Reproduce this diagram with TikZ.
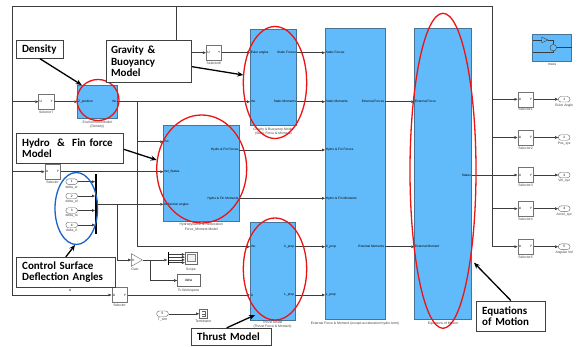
\documentclass[tikz,border=0pt]{standalone}
\usepackage{fontspec}
\setmainfont{Liberation Sans}
\newfontfamily\cofont{Carlito}
\usetikzlibrary{arrows.meta,shapes.geometric,calc}
\definecolor{blkfill}{RGB}{97,187,250}
\definecolor{blkline}{RGB}{70,115,150}
\definecolor{wirec}{RGB}{60,60,60}
\definecolor{ellred}{RGB}{235,20,20}
\definecolor{ellblue}{RGB}{20,100,200}
\tikzset{
 blk/.style={draw=blkline, fill=blkfill, line width=0.6pt, inner sep=0, rectangle},
 selbox/.style={draw=black!55, fill=white, line width=0.4pt, minimum width=15.6pt, minimum height=15pt, inner sep=0},
 wire/.style={draw=wirec, line width=0.45pt},
 arr/.style={wire, -{Triangle[length=3pt,width=2.6pt]}},
 tiny/.style={font=\fontsize{3.2}{3.6}\selectfont, inner sep=0.6pt},
 lab/.style={font=\fontsize{3.4}{3.9}\selectfont, inner sep=0, text=black!75},
 port/.style={draw=black!60, fill=white, rounded corners=2.7pt, minimum width=11.7pt, minimum height=5.5pt, inner sep=0, font=\fontsize{3.2}{3.6}\selectfont},
 redell/.style={draw=ellred, line width=1.3pt, ellipse, inner sep=0},
 blueell/.style={draw=ellblue, line width=1.3pt, ellipse, inner sep=0},
 callout/.style={draw=black!75, line width=0.9pt, fill=white, inner ysep=0, font=\cofont\bfseries\fontsize{11}{11.5}\selectfont, align=left},
 pointer/.style={line width=1.3pt, -{Stealth[length=6pt,width=5pt]}},
 barnode/.style={fill=black, inner sep=0, minimum width=1.6pt},
 smallbox/.style={draw=black!60, fill=white, line width=0.4pt, inner sep=0},
}
\newcommand\mksel[4]{%
 \node[selbox] (#1) at (#2,#3) {};
 \node[tiny] at ([xshift=2.6pt]#1.west) {U};
 \node[tiny] at ([xshift=-2.6pt]#1.east) {Y};
 \node[lab, anchor=north] at ([yshift=-1.2pt]#1.south) {#4};}
\begin{document}
\begin{tikzpicture}[x=1pt,y=-1pt]
\fill[white] (0,0) rectangle (582,347);
\useasboundingbox (0,0) rectangle (582,347);

% ---------- blocks ----------
\node[blk, minimum width=40pt, minimum height=33.3pt] (dens) at (97.3,101.65) {};
\node[blk, minimum width=46.7pt, minimum height=95.7pt] (grav) at (273.35,77.15) {};
\node[blk, minimum width=76pt, minimum height=96pt] (hyd) at (201.3,173) {};
\node[blk, minimum width=45pt, minimum height=97.3pt] (thr) at (272.5,271.35) {};
\node[blk, minimum width=60pt, minimum height=291pt] (ext) at (355,173.8) {};
\node[blk, minimum width=57.4pt, minimum height=291pt] (eom) at (443,173.8) {};
\node[blk, minimum width=39pt, minimum height=27pt] (mass) at (552.2,47.5) {};

% mass icon
\draw[wirec, line width=0.4pt] (533.3,40) -- (541.7,40);
\draw[wirec, line width=0.4pt] (541.7,37.2) -- (541.7,42.8) -- (548,40) -- cycle;
\draw[wirec, line width=0.4pt] (548,40) -- (553.3,40) -- (553.3,44.4);
\draw[wirec, line width=0.4pt] (553.3,47.7) circle [radius=3.3];
\draw[wirec, line width=0.4pt] (556.6,47.7) -- (571.7,47.7);
\draw[wirec, line width=0.4pt] (533.3,52.5) -- (553.3,52.5) -- (553.3,51);
\node[lab] at (552.2,64.5) {mass};

% block labels
\node[lab] at (97.3,122) {Environment Model};
\node[lab] at (97.3,126.6) {(Density)};
\node[lab] at (273.35,129.3) {Gravity \& Buoyancy Model};
\node[lab] at (273.35,133.9) {(Static Force \& Moment)};
\node[lab] at (201.3,225) {Hydrodynamic \& Restoration};
\node[lab] at (201.3,229.6) {Force\_Moment Model};
\node[lab] at (272.5,322.6) {Thrust Model};
\node[lab] at (272.5,326.9) {(Thrust Force \& Moment)};
\node[lab] at (355,323.6) {External Force \& Moment (except acceleration hydro term)};
\node[lab] at (443,323.6) {Equations of Motion};

% ports
\coordinate (dens-i1) at (77.3,101.7);  \coordinate (dens-o1) at (117.3,101.7);
\coordinate (grav-i1) at (250,52.7);    \coordinate (grav-i2) at (250,101.7);
\coordinate (grav-o1) at (296.7,52.7);  \coordinate (grav-o2) at (296.7,101.7);
\coordinate (hyd-i1) at (163.3,141.7);  \coordinate (hyd-i2) at (163.3,171.7);
\coordinate (hyd-i3) at (163.3,204.3);
\coordinate (hyd-o1) at (239.3,150);    \coordinate (hyd-o2) at (239.3,198.3);
\coordinate (thr-i1) at (250,246.7);    \coordinate (thr-i2) at (250,295);
\coordinate (thr-o1) at (295,246.7);    \coordinate (thr-o2) at (295,295);
\coordinate (ext-i1) at (325,52.7);     \coordinate (ext-i2) at (325,101.7);
\coordinate (ext-i3) at (325,150);      \coordinate (ext-i4) at (325,198.3);
\coordinate (ext-i5) at (325,246.7);    \coordinate (ext-i6) at (325,295);
\coordinate (ext-o1) at (385,101.7);    \coordinate (ext-o2) at (385,246.7);
\coordinate (eom-i1) at (414.3,101.7);  \coordinate (eom-i2) at (414.3,246.7);
\coordinate (eom-o1) at (471.7,175);

% port labels
\node[tiny, anchor=west] at (dens-i1) {Z\_position};
\node[tiny, anchor=east] at (dens-o1) {rho};
\node[tiny, anchor=west] at (grav-i1) {Euler angles};
\node[tiny, anchor=west] at (grav-i2) {rho};
\node[tiny, anchor=east] at (grav-o1) {Static Forces};
\node[tiny, anchor=east] at (grav-o2) {Static Moments};
\node[tiny, anchor=west] at (hyd-i1) {rho};
\node[tiny, anchor=west] at (hyd-i2) {Vel\_States};
\node[tiny, anchor=west] at (hyd-i3) {Deflection angles};
\node[tiny, anchor=east] at (hyd-o1) {Hydro \& Fin Forces};
\node[tiny, anchor=east] at (hyd-o2) {Hydro \& Fin Moments};
\node[tiny, anchor=west] at (thr-i1) {rho};
\node[tiny, anchor=west] at (thr-i2) {U};
\node[tiny, anchor=east] at (thr-o1) {X\_prop};
\node[tiny, anchor=east] at (thr-o2) {L\_prop};
\node[tiny, anchor=west] at (ext-i1) {Static Forces};
\node[tiny, anchor=west] at (ext-i2) {Static Moments};
\node[tiny, anchor=west] at (ext-i3) {Hydro \& Fin Forces};
\node[tiny, anchor=west] at (ext-i4) {Hydro \& Fin Moments};
\node[tiny, anchor=west] at (ext-i5) {X\_prop};
\node[tiny, anchor=west] at (ext-i6) {L\_prop};
\node[tiny, anchor=east] at (ext-o1) {External Forces};
\node[tiny, anchor=east] at (ext-o2) {External Moments};
\node[tiny, anchor=west] at (eom-i1) {External Force};
\node[tiny, anchor=west] at (eom-i2) {External Moment};
\node[tiny, anchor=east] at (eom-o1) {States};

% ---------- selectors ----------
\mksel{sel7}{46.3}{101.7}{Selector7}
\mksel{selM}{52.5}{171.7}{Selector}
\mksel{selB}{119.5}{295}{Selector}
\mksel{sel6}{213.85}{52.7}{Selector6}
\mksel{sel1}{525.5}{99.3}{Selector1}
\mksel{sel2}{525.5}{137.5}{Selector2}
\mksel{sel3}{525.5}{175}{Selector3}
\mksel{sel4}{525.5}{208.7}{Selector4}
\mksel{sel5}{525.5}{246.7}{Selector5}

% outports
\node[port] (out1) at (564.2,99.3) {1};
\node[port] (out2) at (564.2,137.5) {2};
\node[port] (out3) at (564.2,175) {3};
\node[port] (out4) at (564.2,208.7) {4};
\node[port] (out5) at (564.2,246.7) {5};
\node[lab, anchor=north] at ([yshift=-1.2pt]out1.south) {Euler Angle};
\node[lab, anchor=north] at ([yshift=-1.2pt]out2.south) {Pos\_xyz};
\node[lab, anchor=north] at ([yshift=-1.2pt]out3.south) {Vel\_xyz};
\node[lab, anchor=north] at ([yshift=-1.2pt]out4.south) {Accel\_xyz};
\node[lab, anchor=north] at ([yshift=-1.2pt]out5.south) {Angular Vel};

% deflection inports and mux
\node[port] (in1) at (71.7,181.7) {1};
\node[port] (in2) at (71.7,196) {2};
\node[port] (in3) at (71.7,210.5) {3};
\node[port] (in4) at (71.7,225) {4};
\node[lab, anchor=north] at ([yshift=-0.8pt]in1.south) {delta\_er};
\node[lab, anchor=north] at ([yshift=-0.8pt]in2.south) {delta\_el};
\node[lab, anchor=north] at ([yshift=-0.8pt]in3.south) {delta\_ru};
\node[lab, anchor=north] at ([yshift=-0.8pt]in4.south) {delta\_rl};
\node[barnode, minimum height=60pt] (mux) at (96,204.3) {};

% gain, scope, to workspace
\node[draw=black!60, fill=white, line width=0.4pt, isosceles triangle, isosceles triangle apex angle=60, minimum height=11pt, inner sep=0] (gain) at (135,260) {};
\node[tiny] at (133.5,260) {K};
\node[lab] at (135,269.5) {Gain};
\node[barnode, minimum height=13.5pt] (smux) at (168.3,258.6) {};
\node[smallbox, minimum width=11.7pt, minimum height=11.6pt] (scope) at (190.85,258.5) {};
\draw[black!50, fill=black!5, line width=0.3pt] (186.8,254.5) rectangle (194.9,261);
\node[lab] at (190.85,269.5) {Scope};
\node[smallbox, minimum width=22.7pt, minimum height=12.4pt, font=\fontsize{3.4}{3.8}\selectfont] (tows) at (188.65,280.5) {delta};
\node[lab] at (188.65,290.3) {To Workspace};

% T_sim and terminator
\node[port] (tsim) at (162.5,313.8) {5};
\node[lab, anchor=north] at ([yshift=-1pt]tsim.south) {T\_sim};
\node[smallbox, minimum width=8pt, minimum height=8.3pt] (term) at (203.3,313.8) {};
\draw[black!60, line width=0.35pt] (201.5,311.3) -- (204.8,311.3) -- (204.8,316.3) -- (201.5,316.3);
\draw[black!60, line width=0.35pt] (201.5,313.8) -- (204.8,313.8);
\node[lab, anchor=north] at ([yshift=-1.5pt]term.south) {Terminator};
\node[tiny] at (70,290.5) {U};

% ---------- wires ----------
\coordinate (fTL) at (12.3,6.7);
\coordinate (fTR) at (492.7,6.7);
\coordinate (tb) at (176.7,6.7);
\draw[wire] (fTL) -- (fTR);
\draw[arr] (fTR) |- (sel5.west);
\draw[arr] (fTL) |- (selB.west);
\draw[arr] (fTL |- sel7.west) -- (sel7.west);
\draw[arr] (fTL |- selM.west) -- (selM.west);
\draw[arr] (fTR |- sel1.west) -- (sel1.west);
\draw[arr] (fTR |- sel2.west) -- (sel2.west);
\draw[arr] (fTR |- sel3.west) -- (sel3.west);
\draw[arr] (fTR |- sel4.west) -- (sel4.west);
\draw[arr] (tb) |- (sel6.west);
\draw[wire] (eom-o1) -- (fTR |- eom-o1);

\draw[arr] (sel1.east) -- (out1.west);
\draw[arr] (sel2.east) -- (out2.west);
\draw[arr] (sel3.east) -- (out3.west);
\draw[arr] (sel4.east) -- (out4.west);
\draw[arr] (sel5.east) -- (out5.west);

\draw[arr] (sel7.east) -- (dens-i1);
\draw[arr] (dens-o1) -- (grav-i2);
\coordinate (rhoJ) at (137.3,101.7);
\draw[arr] (rhoJ) |- (thr-i1);
\draw[arr] (rhoJ |- hyd-i1) -- (hyd-i1);
\draw[arr] (sel6.east) -- (grav-i1);
\draw[arr] (selM.east) -- (hyd-i2);
\draw[arr] (mux.east) -- (hyd-i3);
\coordinate (mJ) at (117.7,204.3);
\draw[arr] (mJ) |- (gain.west);
\draw[arr] (in1.east) -- (in1.east -| mux.west);
\draw[arr] (in2.east) -- (in2.east -| mux.west);
\draw[arr] (in3.east) -- (in3.east -| mux.west);
\draw[arr] (in4.east) -- (in4.east -| mux.west);
\draw[arr] (gain.apex) -- (gain.apex -| smux.west);
\foreach \yy in {254.5,257.2,259.9,262.6}
  \draw[arr] (smux.east |- 0,\yy) -- (scope.west |- 0,\yy);
\coordinate (gJ) at (150,260);
\draw[arr] (gJ) |- (tows.west);
\draw[arr] (selB.east) -- (thr-i2);
\draw[arr] (tsim.east) -- (term.west);

\draw[arr] (grav-o1) -- (ext-i1);
\draw[arr] (grav-o2) -- (ext-i2);
\draw[arr] (hyd-o1) -- (ext-i3);
\draw[arr] (hyd-o2) -- (ext-i4);
\draw[arr] (thr-o1) -- (ext-i5);
\draw[arr] (thr-o2) -- (ext-i6);
\draw[arr] (ext-o1) -- (eom-i1);
\draw[arr] (ext-o2) -- (eom-i2);

% ---------- highlight ellipses ----------
\node[redell, minimum width=42pt, minimum height=41pt] (eDens) at (98,100) {};
\node[redell, minimum width=63.4pt, minimum height=112pt] (eGrav) at (275,82.5) {};
\node[redell, minimum width=90pt, minimum height=108pt] (eHyd) at (201.7,169) {};
\node[redell, minimum width=63.4pt, minimum height=102pt] (eThr) at (275,269) {};
\node[redell, minimum width=66pt, minimum height=315pt] (eEom) at (443,170.8) {};
\node[blueell, minimum width=42.6pt, minimum height=72pt] (eCtl) at (76.3,208.5) {};

% ---------- callouts ----------
\node[callout, text width=36pt, inner xsep=5.3pt, minimum height=17.6pt] (cDens) at (40,49.5) {Density};
\node[callout, text width=75.7pt, inner xsep=5pt, minimum height=41.3pt] (cGrav) at (148.85,61.35) {Gravity \&\\Buoyancy\\Model};
\node[callout, text width=95.6pt, inner xsep=5.5pt, minimum height=30pt] (cHyd) at (70,148.3) {Hydro\ \ \&\ \ Fin force\\Model};
\node[callout, text width=87.3pt, inner xsep=5.5pt, minimum height=30pt] (cCtl) at (65.85,272.3) {Control Surface\\Deflection Angles};
\node[callout, text width=69pt, inner xsep=5.5pt, minimum height=17.4pt] (cThr) at (231.7,337) {Thrust Model};
\node[callout, text width=57.3pt, inner xsep=5.5pt, minimum height=30.7pt] (cEom) at (510.85,316.35) {Equations\\of Motion};

\coordinate (pDens) at (81.7,85);
\coordinate (pGrav) at (243.3,75);
\coordinate (pHyd) at (156.7,160);
\coordinate (pCtl) at (75,245);
\coordinate (pThr) at (255,315);
\coordinate (pEom) at (474,262.7);
\draw[pointer] (cDens.south) -- (pDens);
\draw[pointer] ([yshift=-5.35pt]cGrav.east) -- (pGrav);
\draw[pointer] ([yshift=-1pt]cHyd.east) -- (pHyd);
\draw[pointer] (cCtl.north) -- (pCtl);
\draw[pointer] ([xshift=-5pt]cThr.north) -- (pThr);
\draw[pointer] (cEom.north) -- (pEom);
\end{tikzpicture}
\end{document}
